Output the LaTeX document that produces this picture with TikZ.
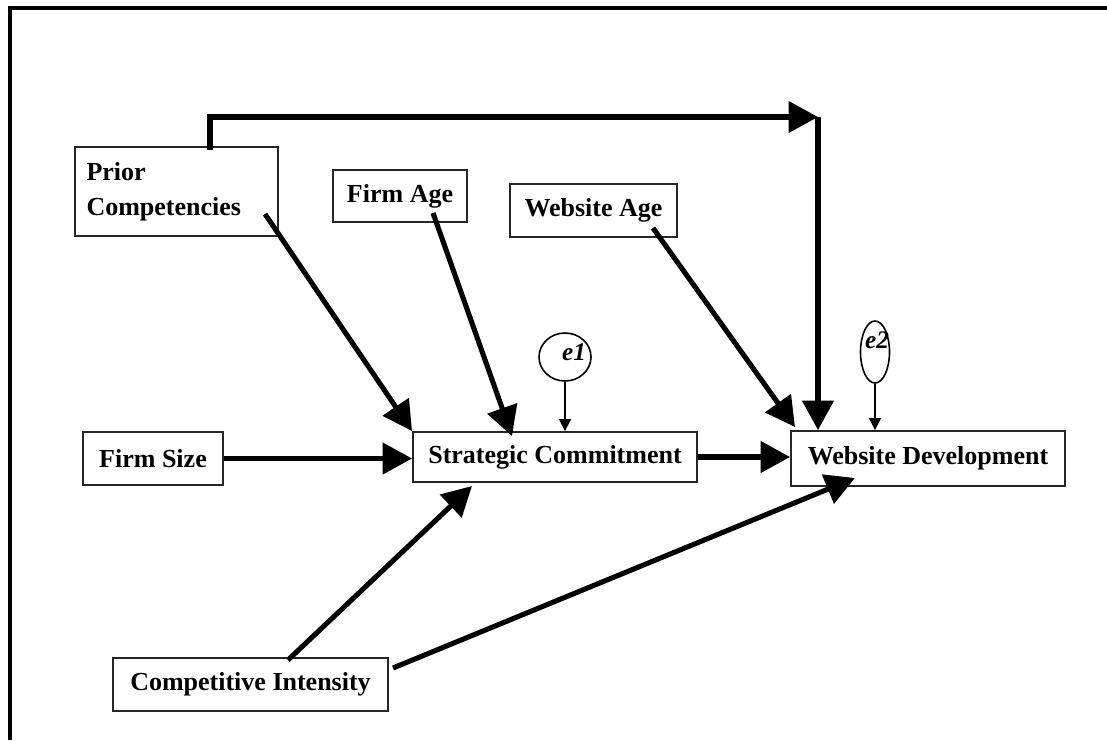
\documentclass[tikz,border=0pt]{standalone}
\usepackage{fontspec}
\setmainfont{Liberation Serif}
\usetikzlibrary{arrows.meta,calc,shapes.geometric}
\newlength\pxu
\setlength\pxu{0.75pt}
\begin{document}
\begin{tikzpicture}[x=0.75pt,y=-0.75pt,
  box/.style={draw=black!85, line width=1.4pt, inner sep=0pt, fill=white,
    font=\fontsize{19.5}{26}\selectfont\bfseries},
  err/.style={draw, ellipse, line width=1.2pt, inner sep=0pt},
  errlabel/.style={inner sep=0pt, font=\fontsize{19}{22}\selectfont\bfseries\itshape},
  bigarrow/.style={line width=3.8pt, -{Triangle[length=22pt,width=23pt]}},
  thinarrow/.style={line width=1.2pt, -{Triangle[length=9pt,width=9pt]}}
]
\useasboundingbox (0,0) rectangle (1107,740);
% outer frame: top and left edges
\draw[line width=3pt] (10,740) -- (10,8) -- (1107,8);

% variables
\node[box, minimum width=203*\pxu, minimum height=89*\pxu,
      text width=180*\pxu, align=left] (pc) at (176.5,191.5) {Prior\\Competencies};
\node[box, minimum width=134*\pxu, minimum height=52*\pxu] (fa) at (400,196) {Firm Age};
\node[box, minimum width=167*\pxu, minimum height=53*\pxu] (wa) at (593.5,210.5) {Website Age};
\node[box, minimum width=140*\pxu, minimum height=53*\pxu] (fs) at (153,458.5) {Firm Size};
\node[box, minimum width=284*\pxu, minimum height=50*\pxu] (sc) at (555,457) {Strategic Commitment};
\node[box, minimum width=274*\pxu, minimum height=55*\pxu] (wd) at (928,458.5) {Website Development};
\node[box, minimum width=275*\pxu, minimum height=53*\pxu] (ci) at (250.5,684.5) {Competitive Intensity};

% error terms
\node[err, minimum width=52*\pxu, minimum height=48*\pxu] (e1) at (565,357) {};
\node[errlabel] (e1t) at (574,352) {e1};
\node[err, minimum width=29*\pxu, minimum height=62*\pxu] (e2) at (875,352) {};
\node[errlabel] (e2t) at (877,340) {e2};

% connector end points
\coordinate (pcTop) at (210,150);
\coordinate (corner) at (818,117);
\coordinate (pcOut) at (265,214);
\coordinate (faOut) at (433,213);
\coordinate (faIn) at (512,436);
\coordinate (waOut) at (653,228);
\coordinate (waIn) at (795,427);
\coordinate (ciTop) at (288,660);
\coordinate (scIn) at (472,486);
\coordinate (ciRight) at (393,668);
\coordinate (wdIn) at (855,478);

% paths
\draw[bigarrow] (pcTop) |- (corner);
\draw[bigarrow] (corner) -- (corner |- wd.north);
\draw[bigarrow] (pcOut) -- (sc.north west);
\draw[bigarrow] (faOut) -- (faIn);
\draw[bigarrow] (waOut) -- (waIn);
\draw[bigarrow] (fs.east) -- (fs.east -| sc.west);
\draw[bigarrow] (sc.east) -- (sc.east -| wd.west);
\draw[bigarrow] (ciTop) -- (scIn);
\draw[bigarrow] (ciRight) -- (wdIn);
\draw[thinarrow] (e1.south) -- (e1.south |- sc.north);
\draw[thinarrow] (e2.south) -- (e2.south |- wd.north);
\end{tikzpicture}
\end{document}
